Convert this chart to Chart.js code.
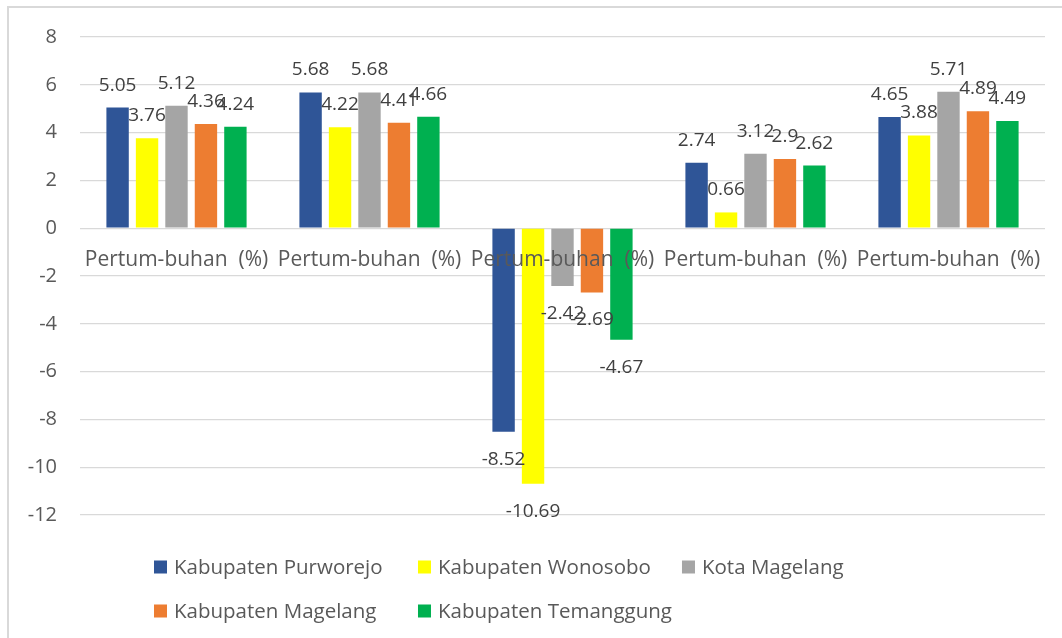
<!DOCTYPE html>
<html>
<head>
<meta charset="utf-8">
<script src="https://cdn.jsdelivr.net/npm/chart.js@4/dist/chart.umd.min.js"></script>
<style>
  html, body { margin: 0; padding: 0; background: #fff; overflow: hidden; }
  #wrap { width: 1062px; height: 638px; position: relative; }
</style>
</head>
<body>
<div id="wrap"><canvas id="chart" width="1062" height="638"></canvas></div>
<script>
const categories = ['Pertum-buhan  (%)', 'Pertum-buhan  (%)', 'Pertum-buhan  (%)', 'Pertum-buhan  (%)', 'Pertum-buhan  (%)'];

const seriesNames = ['Kabupaten Purworejo', 'Kabupaten Wonosobo', 'Kota Magelang', 'Kabupaten Magelang', 'Kabupaten Temanggung'];
const purworejo = [5.05, 5.68, -8.52, 2.74, 4.65];
const wonosobo = [3.76, 4.22, -10.69, 0.66, 3.88];
const kotaMagelang = [5.12, 5.68, -2.42, 3.12, 5.71];
const kabMagelang = [4.36, 4.41, -2.69, 2.9, 4.89];
const temanggung = [4.24, 4.66, -4.67, 2.62, 4.49];
const seriesValues = [purworejo, wonosobo, kotaMagelang, kabMagelang, temanggung];
const colors = ['#2F5597', '#FFFF00', '#A5A5A5', '#ED7D31', '#00B050'];

const FONT = '"Open Sans", "Liberation Sans", sans-serif';

// frame around the chart (only top and left edges are visible in the picture)
const framePlugin = {
  id: 'frame',
  beforeDraw(chart) {
    const ctx = chart.ctx;
    ctx.save();
    ctx.strokeStyle = '#d9d9d9';
    ctx.lineWidth = 2;
    ctx.strokeRect(8, 7, chart.width + 20, chart.height + 20);
    ctx.restore();
  }
};

// value labels at the outer end of every bar
const valueLabels = {
  id: 'valueLabels',
  afterDatasetsDraw(chart) {
    const ctx = chart.ctx;
    ctx.save();
    ctx.font = '19px ' + FONT;
    ctx.fillStyle = '#404040';
    ctx.textAlign = 'center';
    ctx.textBaseline = 'alphabetic';
    chart.data.datasets.forEach((ds, i) => {
      chart.getDatasetMeta(i).data.forEach((bar, j) => {
        const v = ds.data[j];
        const y = v >= 0 ? bar.y - 17 : bar.y + 33;
        ctx.fillText(String(v), bar.x, y);
      });
    });
    ctx.restore();
  }
};

// excel-like legend: grid of 3 columns with equal width
const gridLegend = {
  id: 'gridLegend',
  afterDraw(chart) {
    const ctx = chart.ctx;
    ctx.save();
    ctx.font = '20.5px ' + FONT;
    ctx.textBaseline = 'middle';
    const box = 13, gap = 7, colPad = 10;
    let maxW = 0;
    seriesNames.forEach(n => { maxW = Math.max(maxW, ctx.measureText(n).width); });
    const colW = box + gap + maxW + colPad;
    const left = chart.chartArea.left + 74;
    const top = chart.chartArea.bottom + 52;
    seriesNames.forEach((n, i) => {
      const col = i % 3, row = Math.floor(i / 3);
      const x = left + col * colW;
      const y = top + row * 44;
      ctx.fillStyle = colors[i];
      ctx.fillRect(x, y - box / 2, box, box);
      ctx.fillStyle = '#595959';
      ctx.fillText(n, x + box + gap, y + 1);
    });
    ctx.restore();
  }
};

new Chart(document.getElementById('chart'), {
  type: 'bar',
  data: {
    labels: categories,
    datasets: seriesNames.map((name, i) => ({
      label: name,
      data: seriesValues[i],
      backgroundColor: colors[i],
      borderWidth: 0,
      categoryPercentage: 0.763,
      barPercentage: 0.76
    }))
  },
  options: {
    responsive: false,
    animation: false,
    layout: { padding: { left: 10, right: 17, top: 37, bottom: 123 } },
    plugins: {
      legend: { display: false },
      tooltip: { enabled: false }
    },
    scales: {
      x: {
        position: { y: 0 },
        grid: { display: false, drawTicks: false },
        border: { display: false },
        // z: 1 -> category labels sit on top of the bars
        ticks: { z: 1, color: '#595959', font: { family: FONT, size: 21 }, padding: 19, maxRotation: 0, autoSkip: false }
      },
      y: {
        min: -12,
        max: 8,
        afterFit: s => { s.width = 70; },
        grid: { color: '#d9d9d9', lineWidth: 1.3, drawTicks: false },
        border: { display: false },
        ticks: { stepSize: 2, color: '#595959', font: { family: FONT, size: 20 }, padding: 23 }
      }
    }
  },
  plugins: [framePlugin, valueLabels, gridLegend]
});
</script>
</body>
</html>
